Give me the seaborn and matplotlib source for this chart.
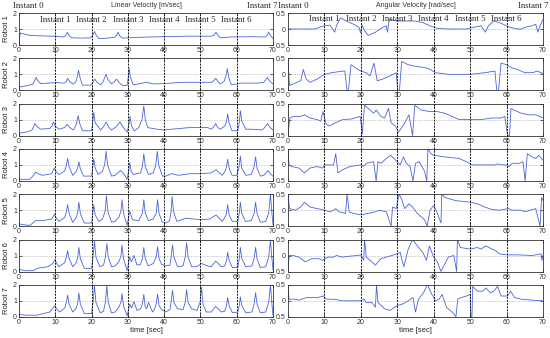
import matplotlib
matplotlib.use("Agg")
import matplotlib.pyplot as plt
from matplotlib.lines import Line2D
from matplotlib.transforms import blended_transform_factory
import seaborn as sns
import pandas as pd

# ---------------- data (time [s], value) ----------------
robot1_lin = [(0,0),(0.3,0.75),(1.5,0.68),(3,0.6),(6,0.57),(10,0.55),(12.3,0.5),(12.9,0.6),(13.3,0.8),(13.8,0.6),(14.5,0.45),(17,0.43),(19.8,0.45),(20.4,0.65),(20.8,0.85),(21.3,0.6),(22,0.4),(24,0.42),(26.3,0.48),(26.9,0.6),(27.3,0.8),(27.8,0.55),(28.5,0.43),(32,0.47),(36,0.5),(40,0.52),(46,0.55),(53,0.55),(53.8,0.62),(54.3,0.8),(54.8,0.6),(55.5,0.45),(58,0.5),(64,0.52),(67.8,0.5),(68.4,0.6),(68.8,0.8),(69.3,0.6),(70,0.4)]
robot2_lin = [(0,0.2),(2,0.28),(3.8,0.38),(4.3,0.6),(4.7,0.8),(5.2,0.6),(6,0.42),(8,0.45),(10,0.48),(12.5,0.45),(13,0.55),(13.4,0.75),(13.9,0.55),(15,0.38),(15.7,0.55),(16.1,0.9),(16.4,1.25),(16.8,0.8),(17.5,0.32),(19.8,0.32),(20.4,0.5),(20.9,0.7),(21.5,0.5),(22.5,0.35),(23.2,0.55),(23.7,0.85),(24,1.0),(24.4,0.7),(25.5,0.4),(26.3,0.55),(26.9,0.7),(27.5,0.5),(28.5,0.3),(29.8,0.3),(30.1,0.8),(30.4,1.35),(30.7,0.8),(31.5,0.35),(33,0.4),(35,0.5),(37,0.4),(40,0.42),(42,0.45),(45,0.5),(53,0.5),(53.7,0.6),(54.2,0.75),(54.8,0.55),(55.5,0.4),(56.5,0.55),(57.1,0.95),(57.4,1.35),(57.8,0.8),(58.5,0.35),(60.3,0.4),(61,0.45),(66,0.45),(67.5,0.5),(68.4,0.8),(69.2,0.55),(70,0.4)]
robot3_lin = [(0,0.15),(2,0.22),(3.5,0.32),(4,0.55),(4.4,0.75),(5,0.55),(6,0.4),(8.5,0.45),(9.1,0.6),(9.5,0.85),(10,0.6),(11,0.4),(12.5,0.5),(13.3,0.7),(14,0.5),(15,0.35),(15.8,0.7),(16.3,1.25),(16.8,0.7),(17.5,0.3),(20,0.3),(20.3,0.8),(20.6,1.45),(21,0.8),(22.5,0.35),(23.3,0.55),(24,0.85),(24.7,0.55),(25.5,0.35),(26.8,0.55),(27.8,0.85),(28.8,0.5),(29.8,0.2),(30.3,0.7),(30.6,1.2),(31,0.6),(31.8,0.3),(33,0.5),(33.9,1.0),(34.4,1.85),(34.8,1.0),(35.5,0.5),(38,0.4),(40,0.35),(42,0.4),(47,0.5),(52,0.5),(53,0.4),(53.7,0.55),(54.2,0.75),(54.8,0.5),(55.5,0.4),(56.7,0.6),(57.2,0.9),(57.5,1.35),(57.9,0.8),(58.7,0.3),(60.3,0.3),(60.7,0.8),(61,1.55),(61.4,0.9),(62.5,0.4),(64,0.4),(67,0.35),(67.9,0.55),(68.5,0.75),(69.2,0.5),(70,0.35)]
robot4_lin = [(0,0.1),(3,0.1),(3.8,0.3),(4.6,0.55),(5.5,0.42),(6.5,0.35),(9,0.45),(9.7,0.8),(10.3,0.55),(11,0.4),(12.5,0.6),(13,0.9),(13.4,1.4),(13.8,0.9),(14.8,0.35),(15.8,0.6),(16.2,0.85),(16.5,1.2),(16.9,0.75),(17.8,0.3),(20,0.3),(20.3,0.8),(20.6,1.4),(21,0.8),(21.8,0.4),(23,0.6),(23.6,1.0),(24,1.85),(24.4,1.0),(25.5,0.3),(26.5,0.35),(28,0.65),(29,0.4),(29.8,0.1),(30.2,0.6),(30.5,1.15),(30.9,0.6),(31.5,0.4),(33.5,0.5),(34,0.9),(34.4,1.7),(34.8,0.9),(35.7,0.4),(37,0.5),(37.7,1.0),(38.1,1.85),(38.5,1.0),(39.5,0.3),(40.5,0.3),(42,0.45),(44,0.35),(47,0.45),(50,0.45),(53,0.5),(54.3,0.7),(56,0.35),(56.8,0.6),(57.2,0.9),(57.5,1.35),(57.9,0.8),(58.7,0.35),(60,0.35),(60.6,0.8),(61,1.55),(61.4,0.8),(62.5,0.35),(64,0.4),(64.7,0.8),(65.2,1.5),(65.6,0.8),(66.5,0.3),(67.5,0.35),(68.6,0.65),(69.4,0.4),(70,0.3)]
robot5_lin = [(0,0.15),(1,0.1),(3,0.05),(3.8,0.2),(4.6,0.35),(6.5,0.35),(9,0.45),(9.8,0.75),(10.3,0.5),(11,0.3),(12.6,0.55),(13,0.85),(13.4,1.35),(13.8,0.8),(14.8,0.25),(15.8,0.55),(16.2,0.9),(16.5,1.5),(16.9,0.8),(18,0.2),(20,0.2),(20.3,0.7),(20.6,1.35),(21,0.7),(22,0.3),(23,0.45),(23.7,0.9),(24.1,1.9),(24.5,0.9),(25.5,0.25),(26.5,0.3),(27.6,0.6),(28.1,0.95),(28.4,1.65),(28.8,0.8),(29.8,0.05),(30.5,0.95),(31.3,0.4),(33,0.35),(34,0.8),(34.4,1.65),(34.8,0.8),(35.7,0.35),(37,0.45),(37.8,0.8),(38.2,1.65),(38.6,0.8),(39.5,0.25),(40.5,0.2),(41.5,0.35),(41.9,0.9),(42.2,1.85),(42.6,0.9),(43.5,0.3),(46,0.5),(50,0.4),(52.5,0.45),(54.3,0.7),(56,0.3),(57.1,0.7),(57.5,1.35),(57.9,0.7),(58.8,0.3),(60.3,0.3),(60.7,0.8),(61,1.5),(61.4,0.8),(62.4,0.3),(64,0.35),(64.8,0.8),(65.2,1.5),(65.6,0.8),(66.5,0.25),(68,0.3),(68.8,0.8),(69.3,2.0),(69.7,0.8),(70,0.1)]
robot6_lin = [(0,0.15),(1.5,0.05),(4,0.05),(5,0.2),(8,0.3),(9.3,0.5),(9.9,0.75),(10.4,0.5),(11,0.3),(12.6,0.55),(13,0.85),(13.4,1.3),(13.8,0.8),(14.8,0.3),(15.8,0.55),(16.2,0.9),(16.5,1.5),(16.9,0.8),(18,0.2),(20,0.2),(20.4,0.9),(20.8,1.9),(21.2,0.9),(22.3,0.3),(23.3,0.4),(23.8,0.9),(24.2,1.75),(24.6,0.9),(25.5,0.3),(26.5,0.35),(27.5,0.6),(28.1,0.95),(28.4,1.65),(28.8,0.8),(29.8,0.05),(30.5,0.9),(31,0.6),(31.7,1.0),(32.5,0.4),(33.5,0.45),(34,0.8),(34.4,1.5),(34.8,0.8),(35.6,0.35),(37,0.5),(37.8,0.9),(38.2,1.55),(38.6,0.8),(39.3,0.45),(40.5,0.35),(41.6,0.4),(41.9,0.9),(42.3,1.65),(42.7,0.9),(43.7,0.3),(45.2,0.35),(45.8,0.9),(46.2,1.8),(46.6,0.9),(47.6,0.3),(49,0.3),(50.3,0.5),(52,0.35),(53,0.3),(54.2,0.65),(55.8,0.3),(56.7,0.35),(57.2,0.7),(57.5,1.2),(57.9,0.7),(58.8,0.25),(60.3,0.25),(60.7,0.8),(61,1.5),(61.4,0.8),(62.5,0.3),(64.2,0.35),(64.8,0.8),(65.2,1.5),(65.6,0.8),(66.5,0.25),(68,0.3),(68.8,0.9),(69.3,1.95),(69.7,0.8),(70,0.1)]
robot7_lin = [(0,0.15),(2,0.1),(5,0.1),(8.5,0.3),(9.9,0.7),(10.5,0.45),(11.2,0.3),(12.6,0.55),(13,0.85),(13.4,1.35),(13.8,0.8),(14.8,0.3),(15.8,0.55),(16.2,0.9),(16.5,1.5),(16.9,0.8),(18,0.2),(20,0.2),(20.4,0.9),(20.8,1.95),(21.2,0.9),(22.4,0.25),(23.3,0.35),(23.8,0.9),(24.2,1.95),(24.6,0.9),(25.5,0.25),(26.5,0.3),(27.5,0.6),(28.1,0.9),(28.4,1.45),(28.8,0.7),(29.8,0.05),(30.5,0.8),(31,0.55),(31.7,0.95),(32.5,0.4),(33.5,0.5),(34,0.8),(34.4,1.4),(34.8,0.6),(35.2,0.5),(35.7,0.9),(36.8,0.3),(37.3,0.45),(37.8,0.8),(38.2,1.4),(38.6,0.7),(39.3,0.45),(40.5,0.3),(41.6,0.45),(41.9,0.9),(42.3,1.65),(42.7,0.9),(43.7,0.5),(45.2,0.45),(45.8,0.9),(46.2,1.7),(46.6,0.9),(47.6,0.5),(49,0.4),(49.9,0.9),(50.3,1.85),(50.7,0.8),(51.6,0.3),(53,0.3),(54.2,0.65),(55.8,0.3),(56.7,0.35),(57.2,0.7),(57.5,1.2),(57.9,0.7),(58.8,0.25),(60.3,0.3),(60.7,0.7),(61,1.25),(61.4,0.7),(62.5,0.25),(64.2,0.3),(64.8,0.8),(65.2,1.5),(65.6,0.8),(66.5,0.25),(68,0.3),(68.8,0.9),(69.3,1.95),(69.7,0.8),(70,0.1)]

robot1_ang = [(0,0),(7.5,0),(8.5,0.05),(10,0.1),(11.5,0.12),(12.8,-0.1),(13.3,0.1),(14.4,0.35),(16,0.25),(18,0.15),(19.5,0.05),(19.9,-0.12),(20.4,0.12),(21,-0.05),(22,-0.2),(24,-0.1),(26,0.05),(27,0.1),(27.3,-0.1),(27.8,0.3),(30,0.25),(34.8,0.25),(37,0.2),(39,0.1),(41,0.02),(44,0),(49,0),(50,0.03),(53,0.1),(54.2,-0.1),(55,0.1),(56.5,0.25),(58,0.2),(59,0.15),(61,0.05),(63,0),(64,0),(65,0.05),(67,0.1),(68,0.15),(68.6,-0.1),(69.2,0.1),(70,0.3)]
robot2_ang = [(0,0.5),(0.4,-0.35),(1.5,-0.3),(3.5,-0.2),(4.2,0.15),(5,-0.15),(6,-0.25),(8,-0.15),(10,0),(12,0.05),(15,0.1),(15.6,0.1),(16.2,-0.5),(16.6,-0.5),(17.3,0.3),(18.5,0.2),(20,0.1),(21.5,0.05),(22.5,-0.05),(23.6,0.35),(24.5,-0.2),(26,-0.15),(28,-0.05),(29.7,0.05),(30.1,-0.5),(30.6,-0.5),(31.2,0.4),(33,0.3),(35,0.25),(38,0.2),(39,0.15),(40.5,0.05),(44,0),(50,0),(54,0.05),(56.8,0.1),(57.3,-0.5),(57.8,-0.5),(58.5,0.35),(60,0.3),(61.5,0.2),(63,0.15),(65,0.05),(67,0.05),(68.5,0.1),(70,0.02)]
robot3_ang = [(0,-0.5),(0.5,0.05),(1.5,0.1),(3.5,0.1),(4.5,0.15),(6,0.05),(8,0),(9,-0.05),(9.6,0.25),(10.5,-0.15),(11.3,-0.2),(13,-0.1),(15,0),(17.5,0.02),(19.8,0.1),(20.4,-0.45),(21,0.45),(22.5,0.3),(23.5,0.2),(24.2,0.3),(25.5,0.1),(26.5,0.05),(27.6,0.35),(28.3,-0.1),(29.5,-0.2),(30.3,-0.4),(31.8,-0.15),(33.2,0.15),(34.2,-0.5),(34.8,0.45),(36.5,0.3),(39,0.25),(41,0.25),(43,0.2),(45,0.1),(47,0),(53,0),(56,0.05),(58.5,0.05),(59.5,0.1),(60.3,-0.5),(60.8,-0.5),(61.2,0.35),(62,0.3),(64,0.2),(66,0.15),(68,0.15),(70,0.05)]
robot4_ang = [(0,0.5),(0.3,0),(1,-0.05),(3,-0.1),(4.5,-0.25),(6,-0.1),(8,-0.05),(9.5,-0.1),(10,0),(12.5,0),(13.1,0.35),(13.7,-0.25),(15,-0.15),(17,-0.05),(20,0),(20.8,-0.05),(21.5,0.05),(23.5,0.1),(24.2,-0.5),(24.7,0.1),(25.5,0.05),(27,0.2),(28.2,0.3),(30,0.1),(30.8,0),(31.7,0.25),(32.5,0.05),(33.5,-0.05),(34.3,-0.5),(35,0.05),(36,0.1),(37.5,-0.2),(38.1,-0.5),(38.4,0.5),(39.3,0.35),(40,0.3),(43,0.25),(47,0.2),(49,0.1),(50.5,0),(57,0),(57.5,0.03),(59,0),(60,0),(60.7,-0.05),(61.5,0.05),(63.5,0.05),(64.5,0.1),(65.1,-0.5),(65.7,0.35),(67,0.25),(68,0.2),(68.8,0.3),(70,0.15)]
robot5_ang = [(0,0.5),(0.4,0.05),(2,0),(3.5,0.1),(4.5,0.25),(6,0.1),(8,0.05),(10,0),(11.5,-0.05),(12.5,0),(13.1,0.05),(14,-0.05),(15.8,-0.1),(16.2,0.5),(16.8,-0.05),(18,-0.1),(20,-0.15),(22,-0.1),(24,-0.05),(25,0),(27,-0.05),(28.3,-0.5),(28.7,0.1),(29.7,0.05),(30.5,0.5),(31.2,0.35),(32,0.05),(33.2,0.2),(34.2,0.1),(35.5,-0.1),(37.5,-0.3),(38.2,-0.5),(39,0),(40,0.15),(41,-0.1),(42,-0.4),(42.2,0.5),(43,0.4),(46,0.3),(50,0.25),(52,0.2),(54,0.1),(56,0.02),(58,0),(60.5,0.05),(61.5,0),(64,0),(65,-0.05),(66.5,0),(68,0.05),(69.2,-0.5),(69.6,0.4),(70,0.3)]
robot6_ang = [(0,-0.5),(0.3,0),(1.5,0),(3,-0.05),(4.7,-0.2),(6.5,-0.1),(8.5,-0.1),(9.5,-0.15),(11,-0.05),(12.5,-0.05),(13.3,0),(15,-0.05),(17,-0.02),(19,0),(20,0.02),(20.8,-0.15),(21,0.5),(21.5,-0.05),(23,-0.2),(24,-0.3),(25.5,-0.1),(27,-0.05),(28.5,0),(30,0.05),(30.8,0.1),(31.2,-0.1),(31.8,-0.35),(33,0.2),(34.2,0.5),(35.5,0.3),(37,0.1),(38,-0.15),(38.8,0.3),(40,-0.05),(41,-0.2),(42,-0.5),(44,-0.05),(45.5,0),(46.3,-0.5),(46.5,0.5),(47.3,0.25),(50,0.2),(52,0.25),(53,0.2),(54.3,0.3),(56,0.2),(57,0.15),(58,0.05),(60,0.02),(63,0.02),(67,0),(69.5,0.05),(69.7,-0.15),(70,0)]
robot7_ang = [(0,0.5),(0.3,0.05),(2,0.05),(3,0.02),(5,0.1),(8,0.1),(9.7,0.15),(10.5,0.05),(12.5,0.05),(15,0),(20,0),(20.8,0.05),(21.5,-0.05),(23,-0.05),(24,-0.2),(24.3,0.5),(24.7,-0.05),(26.5,-0.25),(28,-0.3),(30,-0.15),(31.5,-0.1),(33,0),(34.3,0.1),(35,-0.35),(35.8,0.05),(37.2,0.25),(38.3,0.5),(39.5,0.2),(40.5,0),(41.5,0.05),(42.3,0.2),(43.5,-0.2),(45.5,-0.4),(46.1,-0.5),(46.6,0.05),(47.5,0.1),(49,0.15),(50,0.2),(50.2,-0.5),(50.5,-0.5),(50.7,0.45),(52,0.3),(53.5,0.3),(54.3,0.4),(55.6,0.25),(56.5,0.3),(57.5,0.45),(58.5,0.15),(60.3,0.15),(61.1,0.3),(62.2,0.1),(64,0.05),(67,0.02),(70,0)]

robots = ["Robot 1", "Robot 2", "Robot 3", "Robot 4", "Robot 5", "Robot 6", "Robot 7"]
lin_series = [robot1_lin, robot2_lin, robot3_lin, robot4_lin, robot5_lin, robot6_lin, robot7_lin]
ang_series = [robot1_ang, robot2_ang, robot3_ang, robot4_ang, robot5_ang, robot6_ang, robot7_ang]
instant_times = [10, 20, 30, 40, 50, 60]
instant_labels = ["Instant 1", "Instant 2", "Instant 3", "Instant 4", "Instant 5", "Instant 6"]
x_ticks = [0, 10, 20, 30, 40, 50, 60, 70]
lin_yticks = [0, 1, 2]
ang_yticks = [-0.5, 0, 0.5]
ang_yticklabels = ["0.5", "0", "0.5"]

# ---------------- style ----------------
sns.set_style("white")
plt.rcParams["font.family"] = ["Liberation Sans", "DejaVu Sans"]
LINE = "#4a64da"
SERIF = ["Liberation Serif", "DejaVu Serif"]
INST_FS = 6.3

W, H = 550, 338
fig = plt.figure(figsize=(W / 100, H / 100), dpi=100)

col_x = [(19, 254), (288, 255)]
row_top0, row_pitch, row_h = 13, 45.3, 32

axes = []
for i in range(7):
    top = row_top0 + row_pitch * i
    row_axes = []
    for c, (x0, w) in enumerate(col_x):
        ax = fig.add_axes([x0 / W, 1 - (top + row_h) / H, w / W, row_h / H])
        row_axes.append(ax)
    axes.append(row_axes)

for i in range(7):
    for c in range(2):
        ax = axes[i][c]
        pts = lin_series[i] if c == 0 else ang_series[i]
        df = pd.DataFrame(pts, columns=["t", "v"])
        sns.lineplot(data=df, x="t", y="v", ax=ax, sort=False, estimator=None,
                     color=LINE, lw=0.6)
        ax.set_xlim(0, 70)
        ax.set_xticks(x_ticks)
        ax.set_xticklabels([str(x) for x in x_ticks])
        if c == 0:
            ax.set_ylim(0, 2)
            ax.set_yticks(lin_yticks)
            ax.set_yticklabels([str(y) for y in lin_yticks])
            ax.axhline(1, color="#999999", lw=0.5, ls=(0, (1, 1.5)), zorder=0)
            ax.set_ylabel(robots[i], fontsize=5.5, labelpad=2, color="#222222")
        else:
            ax.set_ylim(-0.5, 0.5)
            ax.set_yticks(ang_yticks)
            ax.set_yticklabels(ang_yticklabels)
            ax.axhline(0, color="#999999", lw=0.5, ls=(0, (1, 1.5)), zorder=0)
            ax.set_ylabel("")
        ax.set_xlabel("")
        ax.tick_params(direction="in", length=2, width=0.5, labelsize=5,
                       labelcolor="#333333", pad=1.5, top=True, right=True,
                       bottom=True, left=True)
        for s in ax.spines.values():
            s.set_linewidth(0.6)
            s.set_color("#333333")

# x labels on bottom row
for c in range(2):
    axes[6][c].set_xlabel("time [sec]", fontsize=5.5, labelpad=1, color="#222222")

# column titles and outer instant labels
axes[0][0].text(0.5, 1.22, "Linear Velocity [m/sec]", transform=axes[0][0].transAxes,
                ha="center", va="center", fontsize=5, color="#333333")
axes[0][1].text(0.5, 1.22, "Angular Velocity [rad/sec]", transform=axes[0][1].transAxes,
                ha="center", va="center", fontsize=5, color="#333333")
for c, (t0, t7) in enumerate([(2.6, 67.1), (1.5, 67.4)]):
    ax = axes[0][c]
    tr = blended_transform_factory(ax.transData, ax.transAxes)
    ax.text(t0, 1.22, "Instant 0", transform=tr, ha="center", va="center",
            fontsize=INST_FS, family=SERIF)
    ax.text(t7, 1.22, "Instant 7", transform=tr, ha="center", va="center",
            fontsize=INST_FS, family=SERIF)

# instant labels inside the first row
for c in range(2):
    ax = axes[0][c]
    y_lab = 1.55 if c == 0 else 0.3
    for t, lab in zip(instant_times, instant_labels):
        ax.text(t, y_lab, lab, ha="center", va="center", fontsize=INST_FS,
                family=SERIF, zorder=5)

# vertical instant lines spanning each column
fig.canvas.draw()
for c in range(2):
    top_ax, bot_ax = axes[0][c], axes[6][c]
    y1 = top_ax.get_position().y1
    y0 = bot_ax.get_position().y0
    tr = blended_transform_factory(top_ax.transData, fig.transFigure)
    for t in instant_times:
        fig.add_artist(Line2D([t, t], [y0, y1], transform=tr, color="#111111",
                              lw=0.7, ls=(0, (2, 1.2)), zorder=3))

fig.savefig("out.png", dpi=100)
